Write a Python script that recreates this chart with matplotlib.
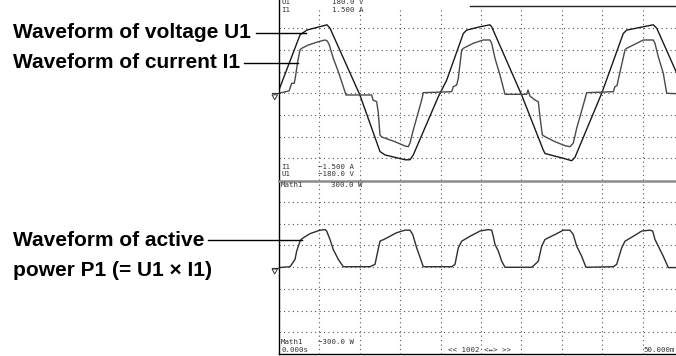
import numpy as np
import matplotlib
matplotlib.use("Agg")
import matplotlib.pyplot as plt
from matplotlib.lines import Line2D
from matplotlib.patches import Polygon

# time axis: 0 .. 50 ms (5 ms/div)
volt_t = [0.0, 2.60, 3.43, 4.80, 5.94, 6.31, 10.02, 12.50, 13.12, 15.59, 16.21, 16.62,
          19.72, 20.75, 22.81, 23.23, 24.88, 26.11, 26.32, 30.04, 32.71, 32.92, 35.19,
          36.23, 36.63, 39.94, 42.61, 43.03, 45.09, 46.32, 46.75, 49.22, 50.0]
volt_v = [7, 121, 131, 137, 142, 135, -4, -121, -128, -138, -138, -128,
          -7, 27, 124, 131, 138, 142, 138, -4, -118, -125, -135,
          -140, -133, 0, 124, 131, 138, 142, 135, 42, 8]

curr_t = [0.0, 1.24, 1.36, 1.57, 1.89, 2.07, 2.31, 2.60, 2.81, 3.63, 4.86, 5.69, 5.98,
          6.23, 6.72, 7.34, 7.96, 8.29, 11.47, 11.63, 12.09, 12.29, 12.50, 12.71, 14.36,
          15.59, 16.00, 16.21, 16.62, 17.66, 17.86, 21.37, 21.57, 21.99, 22.19, 22.61,
          22.81, 24.05, 25.28, 26.11, 26.32, 26.73, 27.35, 27.97, 30.66, 30.82, 31.06,
          31.68, 32.09, 32.30, 32.59, 32.92, 34.16, 35.40, 36.01, 36.42, 36.84, 37.66,
          38.08, 41.37, 41.58, 41.83, 42.12, 42.82, 43.03, 44.27, 45.09, 46.32, 46.53,
          46.94, 47.56, 47.98, 50.0]
curr_a = [0.0, 0.04, 0.086, 0.172, 0.172, 0.316, 0.545, 0.748, 0.777, 0.834, 0.891, 0.921,
          0.903, 0.834, 0.604, 0.373, 0.113, -0.030, -0.030, -0.117, -0.146, -0.341, -0.722,
          -0.756, -0.838, -0.912, -0.924, -0.860, -0.635, -0.117, 0.010, 0.027, 0.113, 0.143,
          0.258, 0.748, 0.777, 0.864, 0.921, 0.921, 0.864, 0.604, 0.316, -0.018, -0.018,
          0.056, -0.048, -0.117, -0.146, -0.405, -0.722, -0.751, -0.838, -0.907, -0.924,
          -0.865, -0.606, -0.203, 0.010, 0.027, 0.113, 0.134, 0.316, 0.748, 0.777, 0.864,
          0.921, 0.921, 0.864, 0.632, 0.345, 0.0, -0.013]

pow_t = [0.0, 1.36, 1.57, 1.98, 2.19, 2.60, 2.81, 3.84, 5.07, 5.69, 5.90, 6.31, 6.72, 7.34,
         7.96, 11.26, 11.88, 12.09, 12.50, 13.12, 14.54, 15.59, 16.21, 16.55, 17.04, 17.86,
         21.37, 21.78, 22.19, 22.61, 23.64, 24.88, 25.90, 26.32, 26.52, 26.73, 27.14, 27.56,
         27.97, 31.27, 31.68, 32.09, 32.51, 32.92, 34.16, 35.19, 36.01, 36.42, 36.84, 37.46,
         37.99, 41.37, 41.79, 42.41, 42.82, 43.85, 44.89, 45.92, 46.25, 46.53, 46.94, 47.56,
         48.18, 50.0]
pow_w = [-2, 1, 9, 26, 55, 89, 97, 115, 127, 129, 124, 95, 60, 26,
         1, 1, 9, 37, 89, 97, 118, 127, 127, 112, 66, 1,
         1, 9, 66, 89, 106, 124, 129, 127, 106, 78, 55, 20,
         -1, -1, 9, 20, 72, 95, 112, 127, 127, 112, 72, 37,
         -1, 1, 9, 66, 89, 106, 124, 127, 124, 95, 72, 37,
         -2, -2]

W, H = 676, 356


def fx(px):
    return px / W


def fy(py):
    return 1 - py / H


fig = plt.figure(figsize=(W / 100, H / 100), dpi=100)

x0, x1 = 279, 683
top_y0, top_y1 = 6.5, 180
bot_y0, bot_y1 = 180, 354

ax_v = fig.add_axes([fx(x0), fy(top_y1), (x1 - x0) / W, (top_y1 - top_y0) / H])
ax_p = fig.add_axes([fx(x0), fy(bot_y1), (x1 - x0) / W, (bot_y1 - bot_y0) / H])
ax_i = ax_v.twinx()

grid_style = dict(color="#555555", linestyle=(0, (1, 3)), linewidth=0.8)
for ax, lim in [(ax_v, 180), (ax_p, 300)]:
    ax.set_xlim(0, 50)
    ax.set_ylim(-lim, lim)
    ax.set_xticks(np.arange(5, 50, 5))
    ax.set_yticks(np.linspace(-lim, lim, 9)[1:-1])
    ax.grid(True, **grid_style)
    ax.tick_params(length=0, labelleft=False, labelbottom=False)
    for s in ax.spines.values():
        s.set_visible(False)
ax_i.set_ylim(-1.5, 1.5)
ax_i.axis("off")

ax_v.plot(volt_t, volt_v, color="#1a1a1a", lw=1.0)
ax_i.plot(curr_t, curr_a, color="#4a4a4a", lw=1.0)
ax_p.plot(pow_t, pow_w, color="#2e2e2e", lw=1.0)

# frame lines of the screen
fig.add_artist(Line2D([fx(x0), fx(x0)], [fy(0), fy(354)], color="black", lw=1.0))
fig.add_artist(Line2D([fx(x0), fx(x1)], [fy(354), fy(354)], color="black", lw=1.0))
fig.add_artist(Line2D([fx(470), fx(x1)], [fy(6), fy(6)], color="#222222", lw=1.0))
fig.add_artist(Line2D([fx(x0), fx(x1)], [fy(180.5), fy(180.5)], color="#8c8c8c", lw=1.8))

# zero-level markers
for zy in (93.3, 267.5):
    fig.add_artist(Line2D([fx(271.5), fx(x0)], [fy(zy), fy(zy)], color="#333333", lw=0.8))
    fig.add_artist(Polygon([[fx(272), fy(zy + 1.5)], [fx(277.5), fy(zy + 1.5)],
                            [fx(274.7), fy(zy + 6.5)]], closed=True, fill=False,
                           edgecolor="#333333", lw=0.7))

# screen readouts
mono = dict(family="DejaVu Sans Mono", fontsize=5.3, color="#333333", va="center")
readouts = [
    (281, 2.5, "U1"), (332, 2.5, "180.0 V"),
    (281, 9.5, "I1"), (332, 9.5, "1.500 A"),
    (281, 167, "I1"), (318, 167, "\u22121.500 A"),
    (281, 174, "U1"), (318, 174, "\u2212180.0 V"),
    (281, 185, "Math1"), (331, 185, "300.0 W"),
    (281, 342, "Math1"), (318, 342, "\u2212300.0 W"),
    (281, 350.5, "0.000s"), (448, 350.5, "<< 1002 <\u2194> >>"),
]
for px, py, s in readouts:
    fig.text(fx(px), fy(py), s, **mono)
fig.text(fx(675), fy(350.5), "50.000m", ha="right", **mono)

# callout labels
lab = dict(family="Liberation Sans", fontweight="bold", fontsize=15.0, color="black",
           va="baseline", ha="left")
fig.text(fx(13), fy(38.5), "Waveform of voltage U1", **lab)
fig.text(fx(13), fy(68), "Waveform of current I1", **lab)
fig.text(fx(13), fy(246.5), "Waveform of active", **lab)
fig.text(fx(13), fy(276.5), "power P1 (= U1 \u00d7 I1)", **lab)

leaders = [(256, 306, 32.5), (244, 298, 63), (208, 302, 239.5)]
for xa, xb, yy in leaders:
    fig.add_artist(Line2D([fx(xa), fx(xb)], [fy(yy), fy(yy)], color="black", lw=1.0))

fig.savefig("out.png", dpi=100)
